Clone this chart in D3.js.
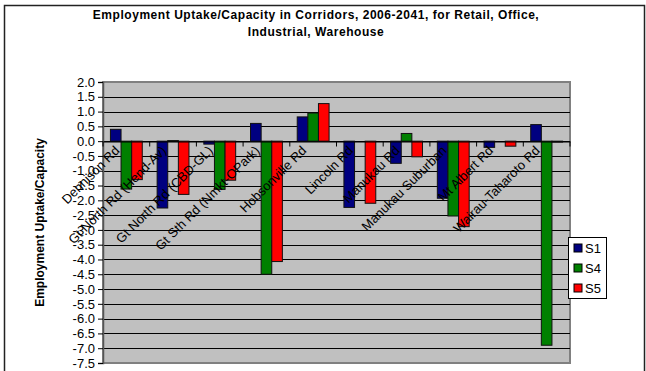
<!DOCTYPE html>
<html><head><meta charset="utf-8">
<script src="https://cdn.jsdelivr.net/npm/d3@7"></script>
<style>html,body{margin:0;padding:0;background:#fff;overflow:hidden}</style>
</head><body>
<svg id="c" width="646" height="371"></svg>
<script>
const categories = ["Dennison Rd","Gt North Rd (Hend-Av)","Gt North Rd (CBD-GL)","Gt Sth Rd (Nmkt-OPark)","Hobsonville Rd","Lincoln Rd","Manukau Rd","Manukau Suburban","Mt Albert Rd","Wairau-Taharoto Rd"];
const seriesNames = ["S1","S4","S5"];
const s1 = [0.4, -2.26, -0.1, 0.6, 0.82, -2.24, -0.75, -1.93, -0.21, 0.56];
const s4 = [-1.62, 0.02, -1.63, -4.5, 0.95, 0, 0.26, -2.53, 0, -6.9];
const s5 = [-1.3, -1.8, -1.32, -4.07, 1.27, -2.1, -0.53, -2.89, -0.17, -0.03];
const yTicks = [2.0,1.5,1.0,0.5,0.0,-0.5,-1.0,-1.5,-2.0,-2.5,-3.0,-3.5,-4.0,-4.5,-5.0,-5.5,-6.0,-6.5,-7.0,-7.5];
const colors = ["#000080","#008000","#FF0000"];
const titleLines = ["Employment Uptake/Capacity in Corridors, 2006-2041, for Retail, Office,","Industrial, Warehouse"];
const yTitle = "Employment Uptake/Capacity";

const svg = d3.select("#c");
const font = "Arial, 'Liberation Sans', sans-serif";
// outer chart border
svg.append("rect").attr("x",4.5).attr("y",5.5).attr("width",640).attr("height",380)
  .attr("fill","#fff").attr("stroke","#222").attr("stroke-width",1.5);

const L=103, R=570, T=82, B=363;
const y = d3.scaleLinear().domain([-7.5,2]).range([B,T]);
const x0 = d3.scaleBand().domain(categories).range([L,R]).padding(0);
const x1 = d3.scaleBand().domain(seriesNames).range([0,x0.bandwidth()]).paddingOuter(0.7).paddingInner(0);

// plot area
svg.append("rect").attr("x",L).attr("y",T).attr("width",R-L).attr("height",B-T)
  .attr("fill","#C0C0C0").attr("stroke","#808080").attr("stroke-width",2);
// gridlines
svg.append("g").selectAll("line").data(yTicks.filter(d=>d<2 && d>-7.5)).join("line")
  .attr("x1",L).attr("x2",R).attr("y1",d=>Math.round(y(d))+0.5).attr("y2",d=>Math.round(y(d))+0.5)
  .attr("stroke","#000").attr("stroke-width",1);

// y axis
const fmt = d=>d3.format(".1f")(d).replace("\u2212","-");
const yAxis = d3.axisLeft(y).tickValues(yTicks).tickFormat(fmt).tickSize(5).tickPadding(3);
const ga = svg.append("g").attr("transform",`translate(${L},0)`).call(yAxis);
ga.select(".domain").attr("stroke","#555").attr("stroke-width",1.5);
ga.selectAll(".tick line").attr("stroke","#000");
ga.selectAll("text").attr("font-family",font).attr("font-size",13).attr("fill","#000");

// bars
const series = [s1,s4,s5];
const g = svg.append("g");
categories.forEach((c,i)=>{
  series.forEach((s,k)=>{
    const v = s[i];
    g.append("rect")
      .attr("x",x0(c)+x1(seriesNames[k]))
      .attr("y",y(Math.max(0,v)))
      .attr("width",x1.bandwidth())
      .attr("height",Math.abs(y(v)-y(0)))
      .attr("fill",colors[k]).attr("stroke","#111").attr("stroke-width",1);
  });
});

// x axis at zero
const xAxis = d3.axisBottom(x0).tickSize(0).tickFormat("");
const gx = svg.append("g").attr("transform",`translate(0,${Math.round(y(0))+0.5})`).call(xAxis);
gx.select(".domain").attr("stroke","#000").attr("stroke-width",1.2);
gx.selectAll(".bnd").data(d3.range(categories.length+1)).join("line")
  .attr("x1",i=>L+i*x0.step()).attr("x2",i=>L+i*x0.step()).attr("y1",0).attr("y2",5).attr("stroke","#000");
categories.forEach((c,i)=>{
  const cx = x0(c)+x0.bandwidth()/2 - 6;
  gx.append("text").attr("transform",`translate(${cx},10) rotate(-45)`)
    .attr("text-anchor","end").attr("font-family",font).attr("font-size",13).attr("fill","#000")
    .text(c);
});

// title
svg.append("g").selectAll("text").data(titleLines).join("text")
  .attr("x",316).attr("y",(d,i)=>19+i*17).attr("text-anchor","middle")
  .attr("font-family",font).attr("font-weight","bold").attr("font-size",12).attr("letter-spacing","0.55px").attr("fill","#000")
  .text(d=>d);
// y title
svg.append("text").attr("transform",`translate(44,${(T+B)/2}) rotate(-90)`).attr("text-anchor","middle")
  .attr("font-family",font).attr("font-weight","bold").attr("font-size",12).attr("fill","#000").text(yTitle);

// legend
const lg = svg.append("g").attr("transform","translate(568,237)");
lg.append("rect").attr("x",0.5).attr("y",0.5).attr("width",38).attr("height",61).attr("fill","#fff").attr("stroke","#000");
seriesNames.forEach((n,k)=>{
  lg.append("rect").attr("x",6).attr("y",7+k*20).attr("width",8).attr("height",8).attr("fill",colors[k]).attr("stroke","#000");
  lg.append("text").attr("x",17).attr("y",16+k*20).attr("font-family",font).attr("font-size",13).attr("fill","#000").text(n);
});
</script>
</body></html>
